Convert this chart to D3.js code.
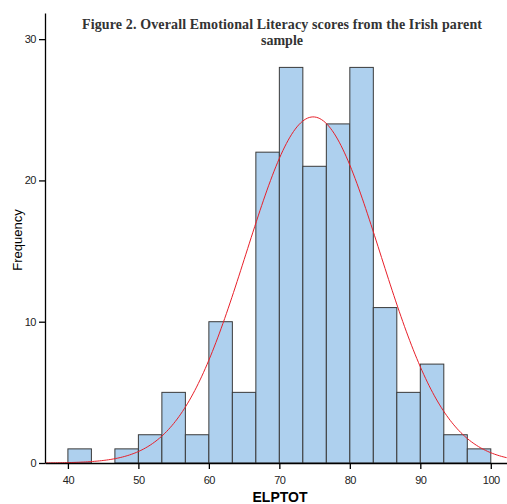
<!DOCTYPE html>
<html lang="en">
  <head>
    <meta charset="UTF-8" />
    <title>Figure 2. Overall Emotional Literacy scores</title>
    <style>
      body {
        margin: 0;
        background-color: #fff;
      }
      svg {
        display: block;
      }
    </style>
  </head>
  <body>
    <svg id="chart" width="507" height="504"></svg>
    <script src="https://d3js.org/d3.v7.min.js"></script>
    <script>
      // histogram bins (ELPTOT), width 3.33 from 40 to 100
      const binStarts = [40, 43.333, 46.667, 50, 53.333, 56.667, 60, 63.333, 66.667,
        70, 73.333, 76.667, 80, 83.333, 86.667, 90, 93.333, 96.667];
      const binWidth = 10 / 3;
      const counts = [1, 0, 1, 2, 5, 2, 10, 5, 22, 28, 21, 24, 28, 11, 5, 7, 2, 1];
      const xTicks = [40, 50, 60, 70, 80, 90, 100];
      const yTicks = [0, 10, 20, 30];
      // fitted normal curve
      const fitMean = 74.8;
      const fitSd = 9.5;

      const svg = d3.select("#chart");
      const x = d3.scaleLinear().domain([36.75, 102.3]).range([45, 507]);
      const y = d3.scaleLinear().domain([0, 31.85]).range([463, 13]);

      const bins = binStarts.map((s, i) => ({ x0: s, x1: s + binWidth, n: counts[i] }));

      svg.append("g")
        .selectAll("rect")
        .data(bins.filter((d) => d.n > 0))
        .join("rect")
        .attr("x", (d) => x(d.x0))
        .attr("y", (d) => y(d.n))
        .attr("width", (d) => x(d.x1) - x(d.x0))
        .attr("height", (d) => y(0) - y(d.n))
        .attr("fill", "#aed0ee")
        .attr("stroke", "#3a3a3a")
        .attr("stroke-width", 1);

      // normal curve
      const total = d3.sum(counts);
      const curve = d3.range(36.75, 102.3, 0.25).map((v) => {
        const z = (v - fitMean) / fitSd;
        return [v, (total * binWidth) / (fitSd * Math.sqrt(2 * Math.PI)) * Math.exp(-0.5 * z * z)];
      });
      svg.append("path")
        .datum(curve)
        .attr("fill", "none")
        .attr("stroke", "#e8202a")
        .attr("stroke-width", 1)
        .attr("d", d3.line().x((d) => x(d[0])).y((d) => y(d[1])));

      // axes
      const xAxis = svg.append("g")
        .attr("transform", "translate(0,463)")
        .call(d3.axisBottom(x).tickValues(xTicks).tickSize(6).tickSizeOuter(0));
      const yAxis = svg.append("g")
        .attr("transform", "translate(45,0)")
        .call(d3.axisLeft(y).tickValues(yTicks).tickSize(6).tickSizeOuter(0));
      [xAxis, yAxis].forEach((g) => {
        g.select(".domain").attr("stroke", "#000").attr("stroke-width", 1.3);
        g.selectAll(".tick line").attr("stroke", "#000").attr("stroke-width", 1.3);
        g.selectAll(".tick text")
          .attr("fill", "#222")
          .style("font", "11px 'Liberation Sans', Arial, sans-serif")
          .style("letter-spacing", "-0.5px");
      });
      xAxis.selectAll(".tick text").attr("dy", "1.1em");

      // labels
      svg.append("text")
        .attr("x", 280).attr("y", 502)
        .attr("text-anchor", "middle")
        .style("font", "bold 14px 'Liberation Sans', Arial, sans-serif")
        .text("ELPTOT");
      svg.append("text")
        .attr("transform", "translate(22,240) rotate(-90)")
        .attr("text-anchor", "middle")
        .style("font", "13px 'Liberation Sans', Arial, sans-serif")
        .text("Frequency");

      const title = svg.append("text")
        .attr("text-anchor", "middle")
        .style("font", "bold 14px 'Liberation Serif', 'DejaVu Serif', serif")
        .attr("fill", "#333");
      title.append("tspan").attr("x", 282).attr("y", 29)
        .attr("textLength", 400)
        .text("Figure 2. Overall Emotional Literacy scores from the Irish parent");
      title.append("tspan").attr("x", 282).attr("y", 45).text("sample");
    </script>
  </body>
</html>
